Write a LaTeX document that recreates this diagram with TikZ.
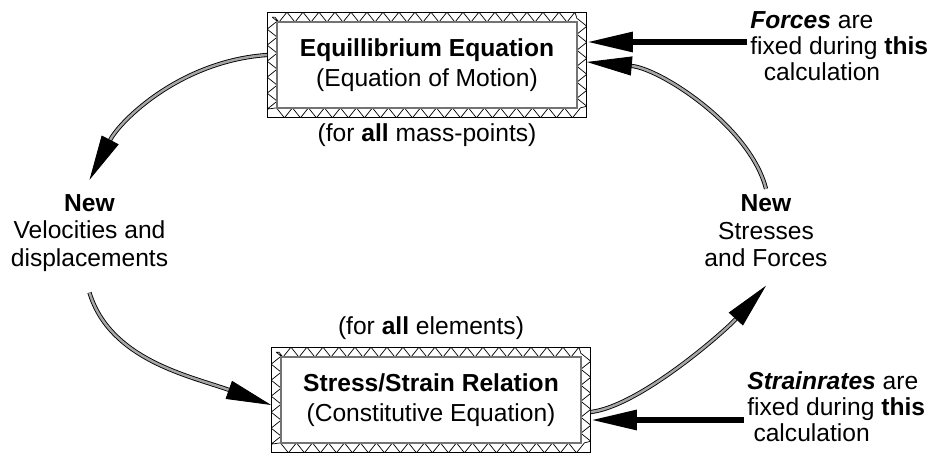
\documentclass[tikz,border=0pt]{standalone}
\usepackage{fontspec}
\setmainfont{Liberation Sans}
\usepackage{tikz}
\usetikzlibrary{positioning, arrows.meta, decorations.pathmorphing}
% hatched frame round a box node
\newcommand{\hatchframe}[1]{%
  \begin{scope}[even odd rule]
    \clip (#1.north west) rectangle (#1.south east)
      ([shift={(0.2,-0.2)}]#1.north west) rectangle ([shift={(-0.2,0.2)}]#1.south east);
    \draw[hatch] ([shift={(0.1,-0.1)}]#1.north west) rectangle ([shift={(-0.1,0.1)}]#1.south east);
  \end{scope}
  \draw[innerline] ([shift={(0.2,-0.2)}]#1.north west) rectangle ([shift={(-0.2,0.2)}]#1.south east);
}

\begin{document}
\begin{tikzpicture}[
    eqbox/.style={draw, thin, minimum width=6.38cm, minimum height=2.1cm, align=center,
      font=\fontsize{14}{17}\selectfont},
    hatch/.style={thin, decorate, decoration={zigzag, segment length=0.32cm, amplitude=0.1cm}},
    innerline/.style={draw=black!55, line width=0.9pt},
    lbl/.style={align=center, font=\fontsize{14}{15.6}\selectfont},
    note/.style={align=left, inner sep=0.06cm, font=\fontsize{14}{14.8}\selectfont},
    flow/.style={draw=black, line width=0.5pt, double=black!35, double distance=1.4pt,
      -{Triangle[length=0.9cm, width=0.38cm]}},
    fixarrow/.style={line width=3.4pt, -{Triangle[length=0.92cm, width=0.38cm]}},
  ]
    \useasboundingbox (0,0) rectangle (18.68,9.12);

    % Boxes
    \node[eqbox] (eq) at (8.54, 7.82) {\textbf{Equillibrium Equation}\\(Equation of Motion)};
    \node[eqbox] (stress) at (8.62, 1.12) {\textbf{Stress/Strain Relation}\\(Constitutive Equation)};
    \hatchframe{eq}
    \hatchframe{stress}

    \node[lbl, below=0pt of eq] (masspts) {(for \textbf{all} mass-points)};
    \node[lbl, above=1pt of stress] (elems) {(for \textbf{all} elements)};

    % Intermediate results
    \node[lbl] (vel) at (1.79, 4.46) {\textbf{New}\\Velocities and\\displacements};
    \node[lbl] (sf) at (15.32, 4.5) {\textbf{New}\\Stresses\\and Forces};

    % Notes on the right
    \node[note, anchor=west] (forces) at (14.94, 8.2)
      {\textbf{\textit{Forces}} are\\fixed during \textbf{this}\\\hspace*{0.55em}calculation};
    \node[note, anchor=west] (strain) at (14.88, 0.98)
      {\textbf{\textit{Strainrates}} are\\fixed during \textbf{this}\\\hspace*{0.25em}calculation};

    % Loop
    \draw[flow] ([yshift=0.2cm]eq.west) .. controls (3.6,7.9) and (2.4,6.7) .. ([yshift=0.17cm]vel.north);
    \draw[flow] ([yshift=-0.3cm]vel.south) .. controls (2.2,1.92) and (3.8,1.6) .. ([yshift=-0.1cm]stress.west);
    \draw[flow] ([yshift=-0.24cm]stress.east) .. controls (12.8,1.0) and (14.5,2.5) .. ([yshift=-0.25cm]sf.south);
    \draw[flow] (sf.north) .. controls (15.0,6.6) and (13.2,7.75) .. ([yshift=0.06cm]eq.east);

    % Fixed quantities
    \coordinate (ftail) at ([yshift=0.08cm]forces.west);
    \coordinate (stail) at ([yshift=-0.26cm]strain.west);
    \draw[fixarrow] (ftail) -- (ftail -| eq.east);
    \draw[fixarrow] (stail) -- (stail -| stress.east);
\end{tikzpicture}
\end{document}
